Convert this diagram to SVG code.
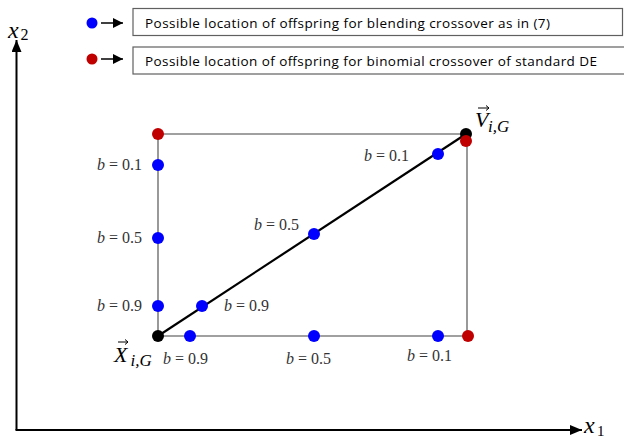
<svg xmlns="http://www.w3.org/2000/svg" width="624" height="440" viewBox="0 0 624 440">
<defs>
<marker id="ah" viewBox="0 0 10 10" refX="10" refY="5" markerWidth="10" markerHeight="10" markerUnits="userSpaceOnUse" orient="auto">
<path d="M0,0 L10,5 L0,10 z" fill="#000"/>
</marker>
<marker id="axh" viewBox="0 0 12 10" refX="12" refY="5" markerWidth="12" markerHeight="10" markerUnits="userSpaceOnUse" orient="auto">
<path d="M0,0 L12,5 L0,10 z" fill="#000"/>
</marker>
</defs>
<style>
.box{fill:#fff;stroke:#606060;stroke-width:1.2}
.leg{font-family:"Open Sans","Liberation Sans",sans-serif;font-size:13.5px;fill:#000}
.rect{stroke:#808080;stroke-width:1.6;fill:none}
.axis{stroke:#000;stroke-width:2;fill:none}
.diag{stroke:#000;stroke-width:2.2}
.blue{fill:#0000ff}
.red{fill:#c00000}
.blk{fill:#000}
.lbl{font-family:"Liberation Serif","Times New Roman",serif;font-size:16px;fill:#333}
.it{font-style:italic}
.math{font-family:"Liberation Serif","Times New Roman",serif;fill:#000}
</style>
<rect width="624" height="440" fill="#fff"/>
<g id="legend-blue">
<circle cx="92" cy="23" r="5.5" class="blue"/>
<line x1="101" y1="23" x2="123" y2="23" stroke="#000" stroke-width="1.5" marker-end="url(#ah)"/>
<rect x="133" y="8.5" width="489.5" height="27" class="box"/>
<text x="145" y="28" class="leg" textLength="405" lengthAdjust="spacing">Possible location of offspring for blending crossover as in (7)</text>
</g>
<g id="legend-red">
<circle cx="92" cy="59" r="5.5" class="red"/>
<line x1="101" y1="59" x2="123" y2="59" stroke="#000" stroke-width="1.5" marker-end="url(#ah)"/>
<rect x="133" y="47" width="500" height="27" class="box"/>
<text x="145" y="66" class="leg" textLength="452" lengthAdjust="spacing">Possible location of offspring for binomial crossover of standard DE</text>
</g>
<g id="connectors">
<line x1="16.5" y1="430" x2="16.5" y2="40" class="axis" marker-end="url(#axh)"/>
<line x1="15.5" y1="430" x2="582" y2="430" class="axis" marker-end="url(#axh)"/>
<line x1="158" y1="134" x2="467" y2="134" class="rect"/>
<line x1="467" y1="134" x2="467" y2="336" class="rect"/>
<line x1="158" y1="336" x2="468" y2="336" class="rect"/>
<line x1="158" y1="134" x2="158" y2="336" class="rect"/>
<line x1="158" y1="336" x2="466" y2="134" class="diag"/>
</g>
<g id="axis-labels">
<text x="8" y="38" class="math it" font-size="24">x</text>
<text x="20.5" y="40" class="math" font-size="16">2</text>
<text x="584" y="433" class="math it" font-size="24">x</text>
<text x="597" y="436" class="math" font-size="15">1</text>
</g>
<g id="node-X">
<circle cx="158" cy="336" r="6" class="blk"/>
<text x="114" y="362" class="math it" font-size="22">X</text>
<text x="130.5" y="366" class="math it" font-size="17">i,G</text>
<path d="M118,342 L128,342 M125,339.5 L128,342 L125,344.5" stroke="#000" stroke-width="1" fill="none"/>
</g>
<g id="node-V">
<circle cx="466" cy="134" r="6" class="blk"/>
<circle cx="466" cy="141" r="6" class="red"/>
<text x="475" y="127" class="math it" font-size="22">V</text>
<text x="488" y="132" class="math it" font-size="17">i,G</text>
<path d="M478,108 L489,108 M486,105.5 L489,108 L486,110.5" stroke="#000" stroke-width="1" fill="none"/>
</g>
<g id="node-red-topleft"><circle cx="158" cy="134" r="6" class="red"/></g>
<g id="node-red-bottomright"><circle cx="468" cy="336" r="6" class="red"/></g>
<g id="node-left-01"><circle cx="158" cy="165" r="6" class="blue"/><text x="97" y="170" class="lbl"><tspan class="it">b</tspan> = 0.1</text></g>
<g id="node-left-05"><circle cx="158" cy="238" r="6" class="blue"/><text x="97" y="243" class="lbl"><tspan class="it">b</tspan> = 0.5</text></g>
<g id="node-left-09"><circle cx="158" cy="306" r="6" class="blue"/><text x="97" y="311" class="lbl"><tspan class="it">b</tspan> = 0.9</text></g>
<g id="node-diag-09"><circle cx="202" cy="306" r="6" class="blue"/><text x="224" y="311" class="lbl"><tspan class="it">b</tspan> = 0.9</text></g>
<g id="node-diag-05"><circle cx="314" cy="234" r="6" class="blue"/><text x="254" y="230" class="lbl"><tspan class="it">b</tspan> = 0.5</text></g>
<g id="node-diag-01"><circle cx="438" cy="154" r="6" class="blue"/><text x="364" y="161" class="lbl"><tspan class="it">b</tspan> = 0.1</text></g>
<g id="node-bottom-09"><circle cx="190" cy="336" r="6" class="blue"/><text x="163" y="364" class="lbl"><tspan class="it">b</tspan> = 0.9</text></g>
<g id="node-bottom-05"><circle cx="314" cy="336" r="6" class="blue"/><text x="286" y="364" class="lbl"><tspan class="it">b</tspan> = 0.5</text></g>
<g id="node-bottom-01"><circle cx="438" cy="336" r="6" class="blue"/><text x="407" y="361" class="lbl"><tspan class="it">b</tspan> = 0.1</text></g>
</svg>
